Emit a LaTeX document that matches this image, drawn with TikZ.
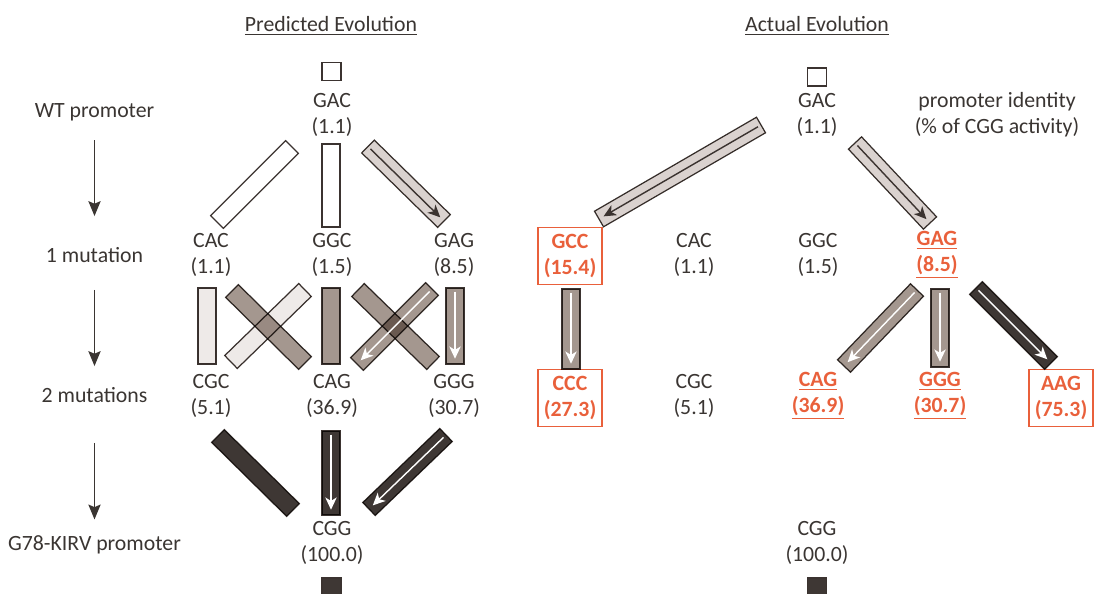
\documentclass[tikz,border=0pt]{standalone}
\usepackage{fontspec}
\setmainfont{Carlito}
\usetikzlibrary{positioning,calc,arrows.meta}

\definecolor{inkgray}{HTML}{3A3532}
\definecolor{bedge}{HTML}{3B3330}
\definecolor{bpale}{HTML}{EEEAE8}
\definecolor{blight}{HTML}{DAD2CF}
\definecolor{bmid}{HTML}{A4978F}
\definecolor{bdark}{HTML}{3E3734}
\definecolor{hitred}{HTML}{E9603B}

\newcommand{\labfont}{\fontsize{12.4}{14.8}\selectfont}
\newcommand{\barhalf}{0.18cm}
% bar from node #2 (shifted by #3) to node #4 (shifted by #5)
\newcommand{\promobar}[5][]{%
  \coordinate (bs) at ([shift={(#3)}]#2);
  \coordinate (be) at ([shift={(#5)}]#4);
  \filldraw[bar,#1] ($(bs)!\barhalf!90:(be)$) -- ($(bs)!\barhalf!-90:(be)$)
    -- ($(be)!\barhalf!90:(bs)$) -- ($(be)!\barhalf!-90:(bs)$) -- cycle;}

\tikzset{
  prom/.style={align=center, inner sep=0pt, text=inkgray, font=\labfont},
  hit/.style={prom, text=hitred, font=\labfont\bfseries},
  hitbox/.style={hit, draw=hitred, line width=1.1pt, minimum width=1.28cm, minimum height=1.14cm},
  stage/.style={inner sep=0pt, text=inkgray, font=\labfont},
  stagearrow/.style={draw=inkgray, line width=0.7pt, -{Stealth[length=8.5pt,width=7pt,inset=1.5pt]}},
  bar/.style={draw=bedge, line width=0.7pt, blend mode=multiply},
  blackarrow/.style={draw=bedge, line width=0.8pt, -{Stealth[length=7pt,width=6.5pt,inset=2pt]}, shorten <=2pt, shorten >=3pt},
  whitearrow/.style={draw=white, line width=0.8pt, -{Stealth[length=7pt,width=6.5pt,inset=2pt]}, shorten <=2pt, shorten >=3pt},
  stub/.style={draw=bedge, line width=0.7pt, minimum width=0.38cm, minimum height=0.36cm, inner sep=0pt},
}

\begin{document}
\begin{tikzpicture}[x=0.02cm, y=-0.02cm]
\clip (0,0) rectangle (1094,594);

\node[prom] (tPred) at (331,26) {\underline{Predicted Evolution}};
\node[prom] (tAct) at (817,26) {\underline{Actual Evolution}};

\node[stage] (wt) at (94.5,112) {WT promoter};
\node[stage] (m1) at (94.5,255) {1 mutation};
\node[stage] (m2) at (94.5,395) {2 mutations};
\node[stage] (kirv) at (94.5,545) {G78-KIRV promoter};
\draw[stagearrow, shorten <=0.38cm, shorten >=0.62cm] (wt) -- (m1);
\draw[stagearrow, shorten <=0.54cm, shorten >=0.42cm] (m1) -- (m2);
\draw[stagearrow, shorten <=0.8cm, shorten >=0.32cm] (m2) -- (kirv);

% predicted evolution
\node[stub, fill=white] (pTop) at (331.5,71.5) {};
\node[prom] (pGAC) at (332,115) {GAC\\(1.1)};
\node[prom] (pCAC) at (211,255) {CAC\\(1.1)};
\node[prom] (pGGC) at (332,255) {GGC\\(1.5)};
\node[prom] (pGAG) at (454,255) {GAG\\(8.5)};
\node[prom] (pCGC) at (211,396) {CGC\\(5.1)};
\node[prom] (pCAG) at (332,396) {CAG\\(36.9)};
\node[prom] (pGGG) at (454,396) {GGG\\(30.7)};
\node[prom] (pCGG) at (332,543) {CGG\\(100.0)};
\node[stub, fill=bdark, minimum height=0.4cm] (pEnd) at (331.5,588) {};

\promobar[fill=white]{pGAC}{-40,32}{pCAC}{6,-33}
\promobar[fill=white]{pGAC}{-1,29}{pGGC}{-1,-28}
\promobar[fill=blight]{pGAC}{36,31.5}{pGAG}{-10,-34}
\draw[blackarrow] (bs) -- (be);

\promobar[fill=bpale]{pCAC}{-4,33}{pCGC}{-4,-32}
\promobar[fill=bmid]{pCAC}{21,36}{pCAG}{-27,-33}
\promobar[fill=bpale]{pGGC}{-27,35}{pCGC}{20,-34}
\promobar[fill=bmid]{pGGC}{-1,33}{pCAG}{-1,-32}
\promobar[fill=bmid]{pGGC}{26,35}{pGGG}{-21,-33}
\promobar[fill=bmid]{pGAG}{-22,34}{pCAG}{25,-32}
\draw[whitearrow] (bs) -- (be);
\promobar[fill=bmid]{pGAG}{1,33}{pGGG}{1,-32}
\draw[whitearrow] (bs) -- (be);

\promobar[fill=bdark]{pCGC}{7,40}{pCGG}{-39,-33}
\promobar[fill=bdark]{pCAG}{-1,35}{pCGG}{-1,-28}
\draw[whitearrow] (bs) -- (be);
\promobar[fill=bdark]{pGGG}{-8,39}{pCGG}{37,-34}
\draw[whitearrow] (bs) -- (be);

% actual evolution
\node[stub, fill=white] (aTop) at (817,77) {};
\node[prom] (aGAC) at (817,115) {GAC\\(1.1)};
\node[prom] (key) at (997,115) {promoter identity\\(\% of CGG activity)};
\node[hitbox] (aGCC) at (570,256) {GCC\\(15.4)};
\node[prom] (aCAC) at (694,255) {CAC\\(1.1)};
\node[prom] (aGGC) at (818,255) {GGC\\(1.5)};
\node[hit] (aGAG) at (937,255) {\underline{GAG}\\\underline{(8.5)}};
\node[hitbox] (aCCC) at (570,398) {CCC\\(27.3)};
\node[prom] (aCGC) at (694,396) {CGC\\(5.1)};
\node[hit] (aCAG) at (818,396) {\underline{CAG}\\\underline{(36.9)}};
\node[hit] (aGGG) at (940,396) {\underline{GGG}\\\underline{(30.7)}};
\node[hitbox] (aAAG) at (1061,398) {AAG\\(75.3)};
\node[prom] (aCGG) at (817,543) {CGG\\(100.0)};
\node[stub, fill=bdark, minimum height=0.4cm] (aEnd) at (817,588) {};

\promobar[fill=blight]{aGAC}{-56,10}{aGCC}{29,-37}
\draw[blackarrow] (bs) -- (be);
\promobar[fill=blight]{aGAC}{38,28}{aGAG}{-7,-32}
\draw[blackarrow] (bs) -- (be);
\promobar[fill=bmid]{aGCC}{1,33}{aCCC}{1,-29}
\draw[whitearrow] (bs) -- (be);
\promobar[fill=bmid]{aGAG}{-20,35}{aCAG}{26,-30}
\draw[whitearrow] (bs) -- (be);
\promobar[fill=bmid]{aGAG}{3,34}{aGGG}{0,-29}
\draw[whitearrow] (bs) -- (be);
\promobar[fill=bdark]{aGAG}{39,33}{aAAG}{-10,-35}
\draw[whitearrow] (bs) -- (be);
\end{tikzpicture}
\end{document}
